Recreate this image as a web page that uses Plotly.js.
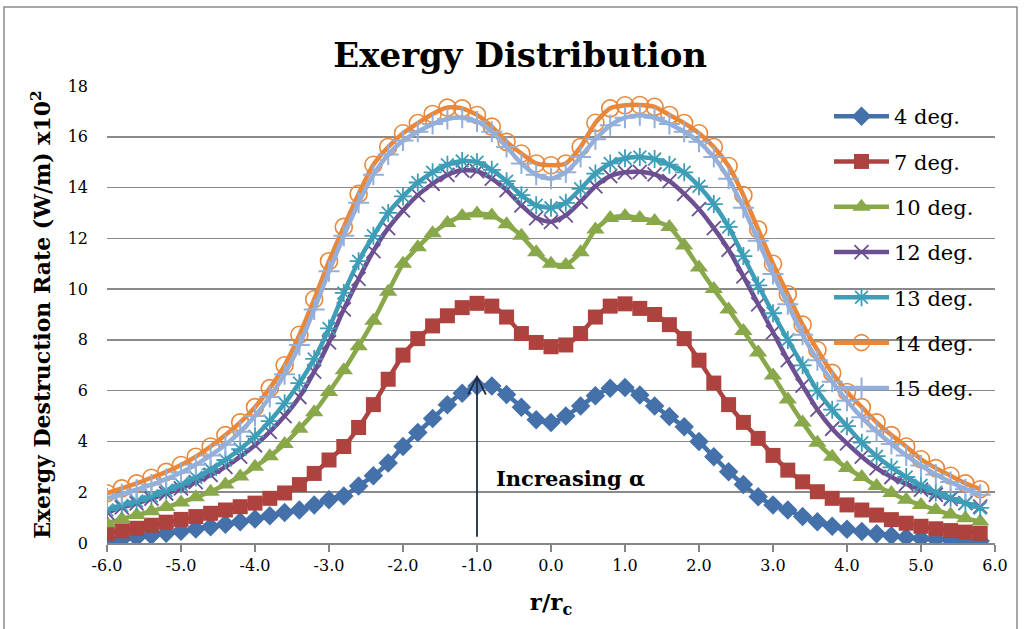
<!DOCTYPE html>
<html>
<head>
<meta charset="utf-8">
<script src="https://cdn.plot.ly/plotly-3.0.1.min.js"></script>
<style>
  html, body { margin: 0; padding: 0; background: #ffffff; }
  #chart { width: 1024px; height: 629px; }
</style>
</head>
<body>
<div id="chart"></div>
<script>
// Radial position r/rc
const rRatio = [-6.0, -5.8, -5.6, -5.4, -5.2, -5.0, -4.8, -4.6, -4.4, -4.2,
                -4.0, -3.8, -3.6, -3.4, -3.2, -3.0, -2.8, -2.6, -2.4, -2.2,
                -2.0, -1.8, -1.6, -1.4, -1.2, -1.0, -0.8, -0.6, -0.4, -0.2,
                 0.0,  0.2,  0.4,  0.6,  0.8,  1.0,  1.2,  1.4,  1.6,  1.8,
                 2.0,  2.2,  2.4,  2.6,  2.8,  3.0,  3.2,  3.4,  3.6,  3.8,
                 4.0,  4.2,  4.4,  4.6,  4.8,  5.0,  5.2,  5.4,  5.6,  5.8];

// Exergy destruction rate (W/m) x10^2 for each angle of attack
const deg4 = [0.05, 0.15, 0.22, 0.30, 0.38, 0.46, 0.55, 0.64, 0.74, 0.84,
              0.95, 1.07, 1.20, 1.30, 1.50, 1.70, 1.85, 2.25, 2.65, 3.15,
              3.80, 4.35, 4.90, 5.45, 5.90, 6.18, 6.18, 5.85, 5.35, 4.85,
              4.75, 5.00, 5.40, 5.80, 6.10, 6.12, 5.83, 5.40, 4.98, 4.58,
              4.00, 3.40, 2.81, 2.30, 1.82, 1.50, 1.30, 1.04, 0.84, 0.66,
              0.54, 0.45, 0.36, 0.29, 0.22, 0.18, 0.15, 0.12, 0.09, 0.08];

const deg7 = [0.38, 0.48, 0.58, 0.70, 0.82, 0.93, 1.04, 1.17, 1.30, 1.43,
              1.57, 1.76, 1.97, 2.30, 2.74, 3.27, 3.80, 4.55, 5.45, 6.45,
              7.40, 8.05, 8.55, 8.95, 9.27, 9.44, 9.33, 8.90, 8.25, 7.90,
              7.73, 7.80, 8.25, 8.90, 9.33, 9.42, 9.24, 9.00, 8.60, 8.05,
              7.20, 6.30, 5.45, 4.75, 4.12, 3.45, 2.87, 2.41, 2.02, 1.76,
              1.50, 1.30, 1.10, 0.92, 0.78, 0.66, 0.56, 0.49, 0.43, 0.38];

const deg10 = [0.78, 0.95, 1.10, 1.25, 1.42, 1.60, 1.80, 2.02, 2.30, 2.62,
               3.00, 3.42, 3.90, 4.50, 5.15, 5.95, 6.80, 7.75, 8.75, 9.90,
               11.00, 11.65, 12.20, 12.60, 12.88, 12.98, 12.90, 12.55, 12.10, 11.45,
               11.00, 10.95, 11.45, 12.35, 12.80, 12.88, 12.80, 12.68, 12.45, 11.72,
               10.85, 10.00, 9.20, 8.35, 7.50, 6.60, 5.65, 4.75, 3.95, 3.40,
               2.95, 2.60, 2.25, 1.97, 1.70, 1.50, 1.30, 1.12, 0.97, 0.85];

const deg12 = [1.20, 1.40, 1.56, 1.75, 1.95, 2.15, 2.40, 2.68, 3.00, 3.40,
               3.85, 4.38, 5.00, 5.75, 6.75, 7.90, 9.20, 10.40, 11.50, 12.40,
               13.10, 13.70, 14.15, 14.50, 14.68, 14.65, 14.35, 13.90, 13.30, 12.80,
               12.65, 12.90, 13.45, 14.05, 14.45, 14.60, 14.62, 14.52, 14.25, 13.75,
               13.15, 12.40, 11.55, 10.50, 9.40, 8.30, 7.20, 6.20, 5.25, 4.50,
               3.92, 3.40, 2.95, 2.60, 2.33, 2.10, 1.90, 1.74, 1.57, 1.43];

const deg13 = [1.30, 1.48, 1.65, 1.85, 2.07, 2.30, 2.58, 2.90, 3.27, 3.70,
               4.20, 4.80, 5.50, 6.30, 7.25, 8.45, 9.85, 11.10, 12.10, 13.00,
               13.65, 14.20, 14.60, 14.90, 15.05, 15.00, 14.70, 14.25, 13.70, 13.30,
               13.20, 13.40, 13.95, 14.55, 14.95, 15.15, 15.20, 15.12, 14.90, 14.60,
               14.05, 13.35, 12.45, 11.30, 10.15, 9.05, 8.00, 7.00, 6.00, 5.25,
               4.60, 3.95, 3.42, 2.98, 2.60, 2.27, 2.00, 1.78, 1.57, 1.38];

const deg14 = [1.96, 2.15, 2.35, 2.57, 2.80, 3.07, 3.40, 3.80, 4.25, 4.75,
               5.35, 6.10, 7.00, 8.20, 9.60, 11.10, 12.45, 13.75, 14.90, 15.60,
               16.14, 16.54, 16.90, 17.15, 17.12, 16.86, 16.40, 15.80, 15.34, 14.95,
               14.88, 14.95, 15.60, 16.55, 17.12, 17.24, 17.25, 17.18, 16.86, 16.54,
               16.14, 15.60, 14.85, 13.70, 12.35, 11.00, 9.80, 8.60, 7.60, 6.70,
               5.95, 5.35, 4.75, 4.25, 3.80, 3.30, 2.95, 2.65, 2.35, 2.12];

const deg15 = [1.75, 1.92, 2.10, 2.30, 2.52, 2.78, 3.08, 3.45, 3.87, 4.38,
               5.00, 5.75, 6.65, 7.80, 9.20, 10.70, 12.10, 13.40, 14.50, 15.30,
               15.85, 16.20, 16.50, 16.70, 16.75, 16.60, 16.20, 15.60, 14.95, 14.50,
               14.35, 14.60, 15.20, 15.90, 16.45, 16.75, 16.85, 16.75, 16.50, 16.20,
               15.80, 15.20, 14.35, 13.20, 11.90, 10.60, 9.40, 8.20, 7.20, 6.35,
               5.60, 4.95, 4.40, 3.90, 3.45, 3.05, 2.70, 2.40, 2.12, 1.90];

const seriesNames = ['4 deg.', '7 deg.', '10 deg.', '12 deg.', '13 deg.', '14 deg.', '15 deg.'];
const yTicks = [0, 2, 4, 6, 8, 10, 12, 14, 16, 18];
const xTicks = [-6, -5, -4, -3, -2, -1, 0, 1, 2, 3, 4, 5, 6];

const serif = 'DejaVu Serif, Liberation Serif, serif';

const styles = [
  { color: '#4471AA', symbol: 'diamond',          size: 15, mline: 0 },
  { color: '#AD423F', symbol: 'square',           size: 15, mline: 0 },
  { color: '#88A84A', symbol: 'triangle-up',      size: 16, mline: 0 },
  { color: '#6C5091', symbol: 'x-thin-open',      size: 14, mline: 1.8 },
  { color: '#3E9DB7', symbol: 'asterisk-open',    size: 15, mline: 1.8 },
  { color: '#E9873A', symbol: 'circle-open',      size: 17, mline: 1.6 },
  { color: '#93AFDA', symbol: 'cross-thin-open',  size: 15, mline: 2 }
];
const allSeries = [deg4, deg7, deg10, deg12, deg13, deg14, deg15];

const traces = allSeries.map((vals, i) => ({
  type: 'scatter',
  mode: 'lines+markers',
  name: seriesNames[i],
  legendgroup: 'g' + i,
  x: rRatio,
  y: vals,
  line: { color: styles[i].color, width: 4.5, shape: 'spline', smoothing: 0.6 },
  marker: {
    symbol: styles[i].symbol,
    size: styles[i].size,
    color: styles[i].color,
    line: { color: styles[i].color, width: styles[i].mline }
  }
}));

// plot area in pixels: left 107, right 995, top 86, bottom 543
const L = 107, R = 995, T = 86, B = 543, W = 1024, H = 629;
const px = (p) => (p - L) / (R - L);
const py = (p) => (B - p) / (B - T);

const layout = {
  width: W, height: H,
  margin: { l: L, r: W - R, t: T, b: H - B },
  paper_bgcolor: '#ffffff',
  plot_bgcolor: '#ffffff',
  showlegend: true,
  title: {
    text: '<b>Exergy Distribution</b>',
    font: { family: serif, size: 34, color: '#000000' },
    x: 0.508, xanchor: 'center', y: 0.912, yanchor: 'middle'
  },
  xaxis: {
    range: [-6, 6],
    tickvals: xTicks,
    ticktext: xTicks.map(v => v.toFixed(1)),
    ticks: 'outside', ticklen: 7, tickwidth: 1.5, tickcolor: '#868686',
    showline: true, linecolor: '#868686', linewidth: 1.5,
    showgrid: false, zeroline: false,
    tickfont: { family: serif, size: 16, color: '#000000' },
    title: { text: '<b>r/r<sub>c</sub></b>', font: { family: serif, size: 23, color: '#000000' }, standoff: 20 }
  },
  yaxis: {
    range: [0, 18],
    tickvals: yTicks,
    ticks: '', showline: false,
    showgrid: true, gridcolor: '#8A8A8A', gridwidth: 1.6,
    zeroline: false,
    tickfont: { family: serif, size: 16, color: '#000000' },
    ticklabelstandoff: 18,
    title: { text: '<b>Exergy Destruction Rate (W/m) x10<sup>2</sup></b>', font: { family: serif, size: 22, color: '#000000' }, standoff: 10 }
  },
  legend: {
    x: px(829), y: py(96), xanchor: 'left', yanchor: 'top',
    bgcolor: 'rgba(0,0,0,0)',
    font: { family: serif, size: 21, color: '#000000' },
    tracegroupgap: 15,
    itemwidth: 55
  },
  shapes: [
    // chart frame
    { type: 'rect', xref: 'paper', yref: 'paper',
      x0: px(4), x1: px(1017), y0: py(640), y1: py(7),
      line: { color: '#8C8C8C', width: 1.5 }, fillcolor: 'rgba(0,0,0,0)', layer: 'below' },
    // arrow shaft
    { type: 'line', xref: 'x', yref: 'y', x0: -1.0, x1: -1.0, y0: 0.25, y1: 6.55,
      line: { color: '#1F2C44', width: 1.8 } },
    // arrow head
    { type: 'path', xref: 'x', yref: 'y',
      path: 'M -1.12,5.85 L -1.0,6.55 L -0.88,5.85',
      line: { color: '#1F2C44', width: 1.8 } }
  ],
  annotations: [
    { x: 0.27, y: 2.56, xref: 'x', yref: 'y', showarrow: false,
      text: '<b>Increasing α</b>', font: { family: serif, size: 21, color: '#000000' } }
  ]
};

Plotly.newPlot('chart', traces, layout, { displayModeBar: false, staticPlot: true });
</script>
</body>
</html>
